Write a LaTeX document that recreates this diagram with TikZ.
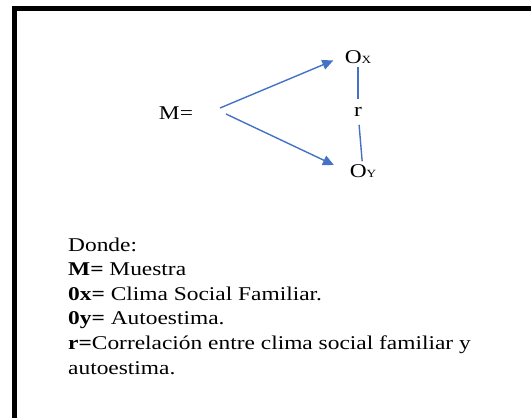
\documentclass[tikz,border=0pt]{standalone}
\usepackage{fontspec}
\setmainfont[FakeStretch=1.2]{Liberation Serif}
\usetikzlibrary{arrows.meta}
\definecolor{wordblue}{RGB}{68,114,196}
\newcommand{\subsc}[1]{{\fontsize{11}{11}\selectfont #1}}
\begin{document}
\begin{tikzpicture}[x=1pt, y=-1pt, font=\fontsize{19.5}{24.6}\selectfont]
  \useasboundingbox (0,0) rectangle (531,418);
  % Frame
  \draw[line width=5pt] (14.5,418) -- (14.5,8.5) -- (531,8.5);
  % Nodes
  \node (M) [inner sep=0pt] at (176,113) {M=};
  \node (Ox) [inner sep=3pt] at (358,57) {O\subsc{X}};
  \node (Oy) [inner sep=3pt] at (363,171) {O\subsc{Y}};
  \node (r) [inner sep=8pt] at (358,112) {r};
  \coordinate (mA) at (220,108);
  \coordinate (mB) at (226,114);
  % Arrows
  \draw[-{Triangle[length=11pt, width=10pt]}, wordblue, line width=1.4pt, shorten >=9pt] (mA) -- (Ox.west);
  \draw[-{Triangle[length=11pt, width=10pt]}, wordblue, line width=1.4pt, shorten >=14pt] (mB) -- (Oy.west);
  \draw[wordblue, line width=1.4pt] (Ox) -- (r);
  \draw[wordblue, line width=1.4pt] (r) -- (Oy);
  % Legend
  \node (legend) [anchor=base west, align=left, inner sep=0pt] at (68,374)
    {Donde:\\
     \textbf{M=} Muestra\\
     \textbf{0x=} Clima Social Familiar.\\
     \textbf{0y=} Autoestima.\\
     \textbf{r=}Correlación entre clima social familiar y\\
     autoestima.};
\end{tikzpicture}
\end{document}
